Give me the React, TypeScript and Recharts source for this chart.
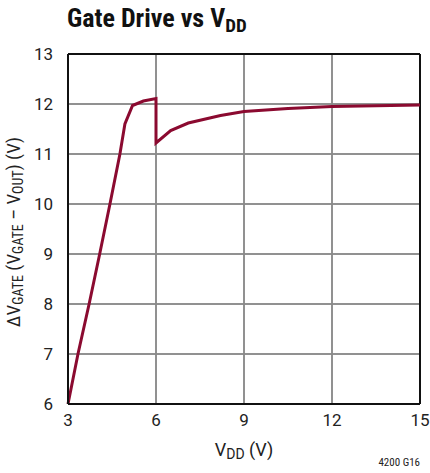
import React from 'react';
import { LineChart, Line, XAxis, YAxis, CartesianGrid, ReferenceLine } from 'recharts';

// VDD (V) and ΔVGATE (V)
const vdd = [3, 3.34, 3.72, 4.08, 4.43, 4.77, 4.94, 5.2, 5.57, 6.0, 6.0, 6.5, 7.1, 8.2, 9, 10.5, 12, 15];
const dvGate = [6, 7, 8, 9, 10, 11, 11.6, 11.97, 12.06, 12.11, 11.22, 11.47, 11.62, 11.77, 11.85, 11.91, 11.95, 11.98];
const xTicks = [3, 6, 9, 12, 15];
const yTicks = [6, 7, 8, 9, 10, 11, 12, 13];

const data = vdd.map((x, i) => ({ x, y: dvGate[i] }));

const NARROW = '"Roboto Condensed", "Liberation Sans Narrow", sans-serif';
const FONT = 'Roboto, "Liberation Sans", sans-serif';
const tickStyle = { fontSize: 17, fill: '#222', fontFamily: FONT };
const GRID = '#8a8a8a';

export default function App() {
  return (
    <div style={{ position: 'absolute', left: 0, top: 0, width: 430, height: 473, background: '#fff', fontFamily: FONT, color: '#222' }}>
      <div style={{ position: 'absolute', left: 67, top: 3, fontSize: 26, fontWeight: 'bold', color: '#111', whiteSpace: 'nowrap', fontFamily: NARROW }}>
        Gate Drive vs V<sub style={{ fontSize: 19, verticalAlign: -5 }}>DD</sub>
      </div>
      <LineChart width={430} height={473} data={data} margin={{ top: 54, right: 10, bottom: 39, left: 0 }}>
        <CartesianGrid stroke={GRID} strokeWidth={1.5} />
        {xTicks.slice(1, -1).map((t) => (
          <ReferenceLine key={'x' + t} x={t} stroke={GRID} strokeWidth={1.5} />
        ))}
        {yTicks.slice(1, -1).map((t) => (
          <ReferenceLine key={'y' + t} y={t} stroke={GRID} strokeWidth={1.5} />
        ))}
        <ReferenceLine x={15} stroke="#111" strokeWidth={2} />
        <ReferenceLine y={13} stroke="#111" strokeWidth={2} />
        <XAxis
          dataKey="x"
          type="number"
          domain={[3, 15]}
          ticks={xTicks}
          height={30}
          tickLine={false}
          stroke="#111"
          strokeWidth={2}
          tick={tickStyle}
          tickMargin={4}
        />
        <YAxis
          type="number"
          domain={[6, 13]}
          ticks={yTicks}
          width={68}
          tickLine={false}
          stroke="#111"
          strokeWidth={2}
          tick={tickStyle}
          tickMargin={9}
        />
        <Line dataKey="y" type="linear" stroke="#8b0a30" strokeWidth={3} dot={false} isAnimationActive={false} />
      </LineChart>
      <div style={{ position: 'absolute', left: 14, top: 232, transform: 'translate(-50%, -50%) rotate(-90deg)', fontSize: 19, whiteSpace: 'nowrap', fontFamily: NARROW }}>
        ΔV<sub style={{ fontSize: 14, verticalAlign: -3 }}>GATE</sub> (V<sub style={{ fontSize: 14, verticalAlign: -3 }}>GATE</sub> – V<sub style={{ fontSize: 14, verticalAlign: -3 }}>OUT</sub>) (V)
      </div>
      <div style={{ position: 'absolute', left: 244, top: 450, transform: 'translate(-50%, -50%)', fontSize: 18, whiteSpace: 'nowrap' }}>
        V<sub style={{ fontSize: 14, verticalAlign: -3 }}>DD</sub> (V)
      </div>
      <div style={{ position: 'absolute', right: 10, top: 456, fontSize: 11, whiteSpace: 'nowrap', fontFamily: NARROW }}>4200 G16</div>
    </div>
  );
}
